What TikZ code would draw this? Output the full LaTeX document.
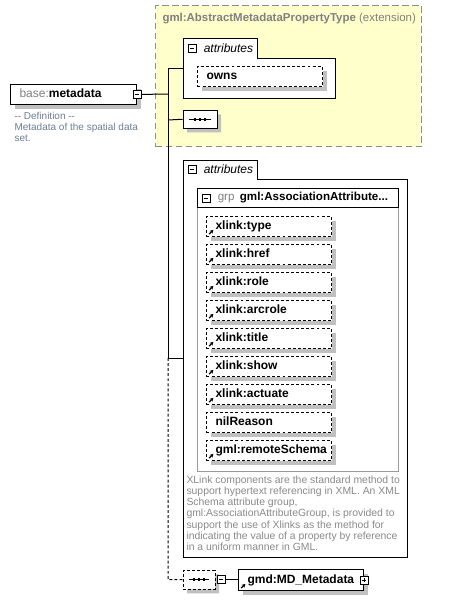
\documentclass[tikz,border=0pt]{standalone}
\usepackage{fontspec}
\setmainfont{Liberation Sans}
\setsansfont{Liberation Sans}
\usetikzlibrary{positioning, arrows.meta, shapes.misc, calc}
\definecolor{cExt}{HTML}{FFFFCC}
\definecolor{cExtLine}{HTML}{8E8E8E}
\definecolor{cShadow}{HTML}{C0C0C0}
\definecolor{cDef}{HTML}{6E7D93}
\definecolor{cNote}{HTML}{8A8A8A}
\definecolor{cGrey}{HTML}{808080}
\definecolor{cGrpLine}{HTML}{9A9A9A}

\begin{document}
\begin{tikzpicture}[
  x=0.75pt, y=-0.75pt,
  font=\sffamily,
  line width=0.75pt,
  shade/.style={preaction={fill=cShadow, draw=none,
                transform canvas={xshift=3pt, yshift=-3pt}}},
  dots/.style={dash pattern=on 2.2pt off 1.6pt},
  ext/.style={fill=cExt, draw=cExtLine, line width=1.1pt,
              dash pattern=on 5pt off 2.5pt, anchor=north west, inner sep=0pt},
  elem/.style={draw, fill=white, anchor=north west, align=left,
               inner xsep=6.75pt, inner ysep=0pt, text width=80.25pt,
               text height=7pt, text depth=2pt, minimum height=15pt,
               font=\fontsize{9}{10}\selectfont\bfseries},
  lnk/.style={path picture={\draw[solid, line width=1pt,
               -{Stealth[length=2.8pt, width=3pt]}]
               ([shift={(2pt,1.8pt)}]path picture bounding box.south west)
               -- ++(3.2pt,3.2pt);}},
  tabhead/.style={fill=white, anchor=north west, inner sep=0pt,
                  minimum width=54.75pt, minimum height=14.25pt},
  panel/.style={fill=white, anchor=north west, inner sep=0pt},
  tabtext/.style={inner sep=1pt, font=\fontsize{9}{10}\selectfont\itshape},
  togbox/.style={draw, fill=white, minimum size=6pt, inner sep=0pt,
                 line width=0.6pt, solid},
  tog/.style={togbox, path picture={\draw[line width=0.6pt]
               ([xshift=1.3pt]path picture bounding box.west) --
               ([xshift=-1.3pt]path picture bounding box.east);}},
  togplus/.style={togbox, path picture={\draw[line width=0.6pt]
               ([xshift=1.3pt]path picture bounding box.west) --
               ([xshift=-1.3pt]path picture bounding box.east)
               ([yshift=1.3pt]path picture bounding box.south) --
               ([yshift=-1.3pt]path picture bounding box.north);}},
  seq/.style={chamfered rectangle, chamfered rectangle xsep=2.6pt,
              chamfered rectangle ysep=2.6pt, draw, fill=white,
              anchor=north west, inner sep=0pt},
  note/.style={anchor=north west, align=left, inner sep=0pt},
]
\useasboundingbox (0,0) rectangle (464,600);

% ====================== extension base type ============================
\node[ext, minimum width=199.5pt, minimum height=105.75pt] (ext) at (155,5) {};
\node[anchor=west, inner sep=0pt, text=cGrey, font=\fontsize{8.6}{10}\selectfont]
  (extTitle) at (162,19) {\textbf{gml:AbstractMetadataPropertyType} (extension)};

% ====================== root element ===================================
\node[elem, shade, text width=81pt] (root) at (10,84)
  {{\mdseries\color{cGrey}base:}metadata};
\node[tog] (rootTog) at (root.east) {};
\node[note, text=cDef, font=\fontsize{7.5}{8}\selectfont] (rootDef) at (14,112)
  {-{}- Definition -{}-\\ Metadata of the spatial data\\ set.};

% trunk points
\coordinate (brRoot) at (168,94);
\coordinate (brA) at (168,68);
\coordinate (brB) at (168,120);
\coordinate (brC) at (168,358);
\coordinate (brD) at (168,579.5);

% ====================== attributes (extension) =========================
\node[tabhead] (attr1Tab) at (183,38) {};
\node[panel, minimum width=113.25pt, minimum height=30pt] (attr1) at (183,57) {};
\draw (attr1Tab.north west) -| (attr1Tab.south east) -| (attr1.south east)
  -- (attr1.south west) -- cycle;
\node[tog, right=3.6pt of attr1Tab.west] (attr1Tog) {};
\node[tabtext, right=4pt of attr1Tog] {attributes};
\node[elem, dots, shade] (owns) at (197,66) {owns};

% sequence
\node[seq, shade, minimum width=25.5pt, minimum height=13.5pt] (seq1) at (183,110) {};
\draw ([xshift=5pt]seq1.west) -- ([xshift=-5pt]seq1.east);
\foreach \dx in {-5,0,5}
  \fill ([xshift=\dx*0.75pt]seq1.center) +(-1.4,-1.4) rectangle +(1.4,1.4);

% ====================== attributes (group) =============================
\node[tabhead, minimum height=13.5pt] (attr2Tab) at (183,160) {};
\node[panel, minimum width=167.25pt, minimum height=283.5pt] (attr2) at (183,178) {};
\draw (attr2Tab.north west) -| (attr2Tab.south east) -| (attr2.south east)
  -- (attr2.south west) -- cycle;
\node[tog, right=3.6pt of attr2Tab.west] (attr2Tog) {};
\node[tabtext, right=4pt of attr2Tog] {attributes};

\node[panel, draw=cGrpLine, minimum width=150.75pt, minimum height=212.25pt]
  (grp) at (197,188) {};
\node[panel, draw, minimum width=150.75pt, minimum height=14.25pt]
  (grpHead) at (197,188) {};
\node[tog, right=3.6pt of grpHead.west] (grpTog) {};
\node[right=4pt of grpTog, inner sep=1pt, font=\fontsize{8.7}{10}\selectfont]
  (grpTitle) {{\color{cGrey}grp}\hspace{4pt}\textbf{gml:AssociationAttribute...}};

\foreach \lbl/\kind [count=\i from 0] in {xlink:type/lnk, xlink:href/lnk,
    xlink:role/lnk, xlink:arcrole/lnk, xlink:title/lnk, xlink:show/lnk,
    xlink:actuate/lnk, nilReason/elem, gml:remoteSchema/lnk}
  \node[elem, dots, shade, \kind] (it\i) at (206,{216+28*\i}) {\lbl};

\node[note, text=cNote, font=\fontsize{7.8}{8.45}\selectfont] (grpNote) at (186,475)
  {XLink components are the standard method to\\
   support hypertext referencing in XML. An XML\\
   Schema attribute group,\\
   gml:AssociationAttributeGroup, is provided to\\
   support the use of Xlinks as the method for\\
   indicating the value of a property by reference\\
   in a uniform manner in GML.};

% ====================== content model ==================================
\node[seq, dots, shade, minimum width=24pt, minimum height=14.25pt] (seq2) at (183,570) {};
\draw ([xshift=5pt]seq2.west) -- ([xshift=-5pt]seq2.east);
\foreach \dx in {-5,0,5}
  \fill ([xshift=\dx*0.75pt]seq2.center) +(-1.4,-1.4) rectangle +(1.4,1.4);
\node[tog, right=0.8pt of seq2.east] (seq2Tog) {};

\node[elem, shade, lnk, minimum height=15.75pt] (md) at (238,569) {gmd:MD\_Metadata};
\node[togplus] (mdTog) at (md.east) {};

% ====================== connectors =====================================
\draw (rootTog) -- (brRoot);
\draw (brA) -- (brC);
\draw (brA) -- (brA -| attr1.west);
\draw (brB) -- (seq1.west);
\draw (brC) -- (brC -| attr2.west);
\draw[dots] (brC) -- (brD) -- (seq2.west);
\draw (seq2Tog) -- (md.west |- seq2Tog);

\end{tikzpicture}
\end{document}
